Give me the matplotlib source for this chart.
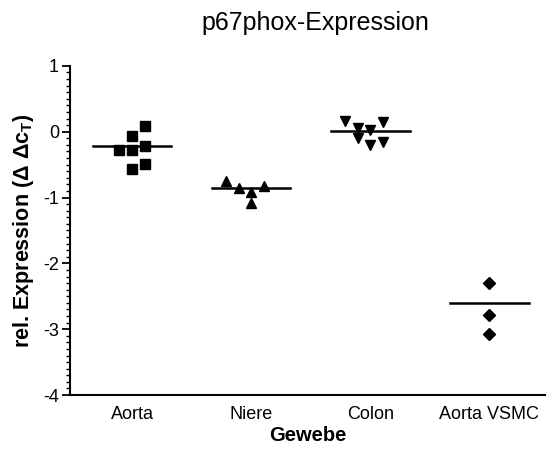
import matplotlib
matplotlib.use("Agg")
import matplotlib.pyplot as plt
from matplotlib.ticker import MultipleLocator

plt.rcParams['font.family'] = ['Liberation Sans', 'DejaVu Sans']
plt.rcParams['mathtext.fontset'] = 'custom'
plt.rcParams['mathtext.rm'] = 'Liberation Sans:bold'
plt.rcParams['mathtext.it'] = 'Liberation Sans:bold'
plt.rcParams['mathtext.bf'] = 'Liberation Sans:bold'

categories = ["Aorta", "Niere", "Colon", "Aorta VSMC"]
markers = ["s", "^", "v", "D"]
marker_sizes = [6.5, 7.5, 7.5, 6.5]

# values per group and horizontal scatter offsets (category units)
aorta_vals = [0.09, -0.21, -0.49, -0.065, -0.28, -0.57, -0.28]
aorta_off = [0.11, 0.11, 0.11, 0.0, 0.0, 0.0, -0.11]
niere_vals = [-0.745, -0.86, -0.91, -0.825, -1.09]
niere_off = [-0.21, -0.10, 0.0, 0.11, 0.0]
colon_vals = [0.16, 0.06, -0.10, 0.026, -0.20, 0.14, -0.15]
colon_off = [-0.21, -0.10, -0.10, 0.0, 0.0, 0.11, 0.11]
vsmc_vals = [-2.30, -2.79, -3.08]
vsmc_off = [0.0, 0.0, 0.0]
group_lines = [-0.21, -0.855, 0.015, -2.60]

values = [aorta_vals, niere_vals, colon_vals, vsmc_vals]
offsets = [aorta_off, niere_off, colon_off, vsmc_off]

fig = plt.figure(figsize=(5.48, 4.51), dpi=100)
ax = fig.add_axes([0.128, 0.124, 0.867, 0.730])

for i, (vals, offs) in enumerate(zip(values, offsets)):
    x = [i + 1 + o for o in offs]
    ax.plot(x, vals, linestyle='none', marker=markers[i], color='black',
            markersize=marker_sizes[i], clip_on=False)
    ax.plot([i + 1 - 0.33, i + 1 + 0.33], [group_lines[i]] * 2, color='black', lw=1.8)

ax.set_xlim(0.48, 4.47)
ax.set_ylim(-4, 1)
ax.set_xticks(range(1, 5))
ax.set_xticklabels(categories, fontsize=13)
ax.tick_params(axis='x', length=0, pad=8)
ax.set_yticks([-4, -3, -2, -1, 0, 1])
ax.set_yticklabels(['-4', '-3', '-2', '-1', '0', '1'])
ax.yaxis.set_minor_locator(MultipleLocator(0.1))
ax.tick_params(axis='y', which='major', length=6, width=1.3, labelsize=13, pad=2)
ax.tick_params(axis='y', which='minor', length=3, width=1.0)

for s in ['top', 'right']:
    ax.spines[s].set_visible(False)
for s in ['left', 'bottom']:
    ax.spines[s].set_linewidth(1.5)

ax.set_xlabel("Gewebe", fontsize=14.5, fontweight='bold', labelpad=2)
ax.set_ylabel(r"rel. Expression ($\Delta\ \Delta c_T$)", fontsize=15.5,
              fontweight='bold', labelpad=5)
fig.text(0.575, 0.95, "p67phox-Expression", fontsize=18, ha='center', va='center')

fig.savefig("out.png", dpi=100)
